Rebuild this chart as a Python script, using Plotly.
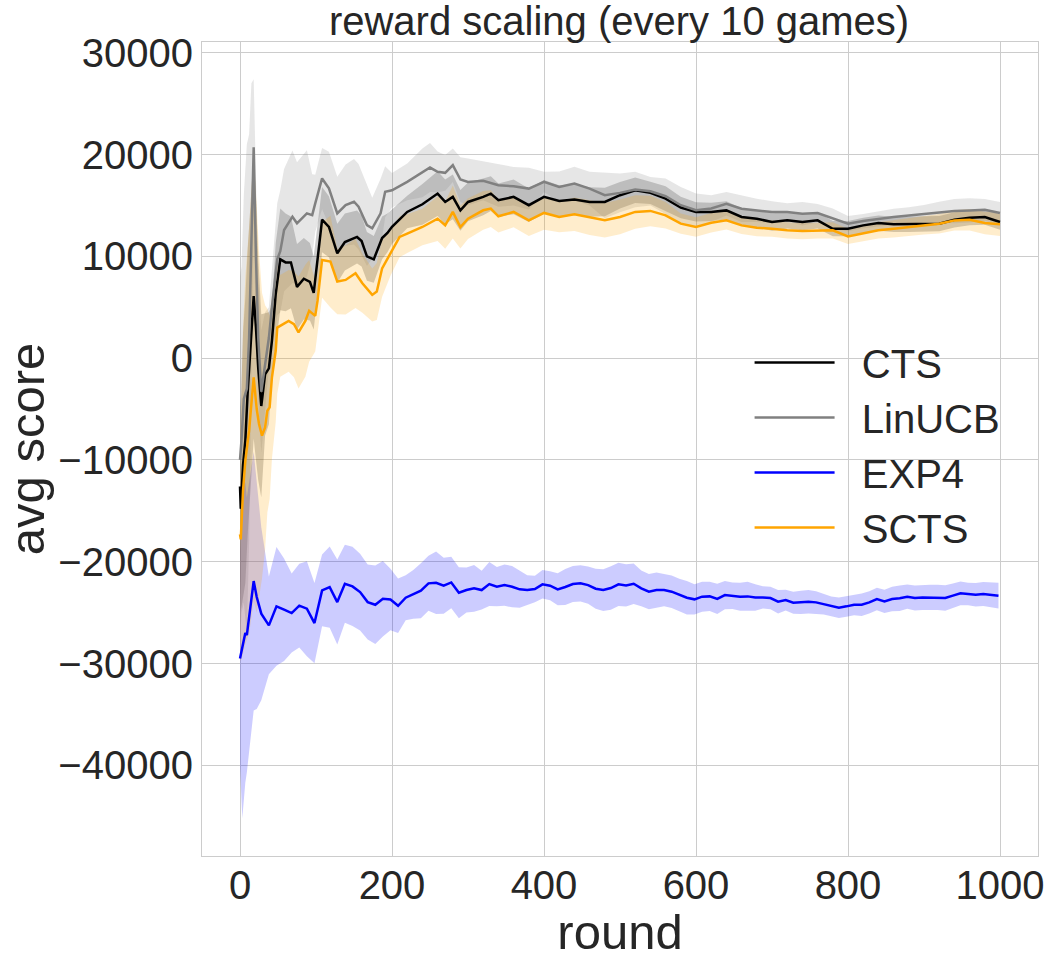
"""Average score per round for four bandit policies, reward scaling every 10 games."""
import numpy as np
import plotly.graph_objects as go

# ---- data (mean line and +/- std band) ----
CTS_ROUND = [0, 1, 4, 7, 10, 12, 15, 18, 21, 24, 28, 33, 38, 42, 47, 53, 60, 67, 75, 84,
             92, 97, 108, 117, 128, 138, 154, 160, 167, 176, 187, 194, 200, 220, 240, 260,
             270, 280, 290, 300, 320, 330, 340, 360, 380, 400, 420, 440, 460, 480, 500, 520,
             540, 560, 580, 600, 620, 640, 660, 680, 700, 720, 740, 760, 780, 800, 820, 840,
             860, 880, 900, 920, 940, 960, 980, 1000]
CTS_MEAN = [-12600, -14800, -10500, -8100, -3500, -900, 2350, 6100, 3000, -1000, -4700, -1600,
            -1000, 1700, 6300, 9700, 9400, 9400, 7000, 7800, 7500, 6400, 13600, 12900, 10300,
            11400, 11900, 11500, 10000, 9700, 11800, 12300, 12900, 14360, 15110, 16160, 15340,
            15840, 14520, 15340, 15840, 16160, 15510, 15840, 15020, 15840, 15440, 15570, 15340,
            15340, 16000, 16490, 16230, 15670, 14790, 14360, 14360, 14510, 13860, 13690, 13370,
            13530, 13370, 13530, 12710, 12710, 13040, 13270, 13140, 13140, 13200, 13200, 13590,
            13790, 13860, 13370]
CTS_STD = [9000, 10000, 13000, 14000, 14000, 14000, 14000, 14000, 13000, 11000, 9000, 6000,
           5500, 3500, 5000, 5000, 4800, 4500, 4200, 4000, 3800, 3600, 3200, 3000, 2900, 2800,
           2600, 2500, 2400, 2300, 2100, 1900, 1700, 1600, 2000, 2200, 2200, 2200, 2000, 1900,
           1800, 1700, 1650, 1700, 1650, 1650, 1550, 1500, 1450, 1400, 1300, 1250, 1100, 1200,
           1050, 950, 900, 900, 850, 850, 850, 800, 800, 800, 750, 750, 750, 750, 750, 750, 750,
           750, 750, 750, 750, 750]

LINUCB_ROUND = [0, 2, 5, 9, 12, 15, 18, 21, 24, 28, 33, 38, 42, 49, 53, 58, 69, 75, 88, 95,
                99, 108, 117, 128, 139, 150, 156, 167, 174, 185, 191, 200, 220, 240, 250, 260,
                270, 280, 290, 300, 320, 340, 360, 380, 400, 420, 440, 460, 480, 500, 520, 540,
                560, 580, 600, 620, 640, 660, 680, 700, 720, 740, 760, 780, 800, 820, 840, 860,
                880, 900, 920, 940, 960, 980, 1000]
LINUCB_MEAN = [-10000, -8000, -4000, -3000, 2000, 12000, 20700, 10000, 2000, -3300, -500, 2000,
               5000, 9700, 10500, 12580, 13890, 13240, 14220, 14050, 15200, 17650, 16670, 14220,
               15030, 15360, 14870, 13070, 12750, 14220, 16340, 16490, 17310, 18200, 18720,
               18300, 18200, 18950, 17540, 17310, 17410, 16980, 16880, 16650, 17310, 16820,
               17150, 16650, 16000, 16230, 16560, 16390, 15900, 15020, 14520, 14700, 15160,
               14670, 14510, 14350, 14350, 14180, 14250, 13690, 13200, 13460, 13690, 13860,
               14020, 14180, 14350, 14440, 14510, 14580, 14250]
LINUCB_STD = [18000, 17000, 20000, 24000, 20000, 15000, 6700, 8000, 6000, 6000, 5000, 3000,
              4000, 5500, 6000, 6000, 6500, 6000, 6200, 4000, 2800, 3000, 3600, 3600, 4000,
              4200, 4200, 4000, 3000, 3400, 2500, 1700, 1800, 2400, 2400, 2000, 1750, 1650,
              2200, 2300, 1900, 2100, 1900, 2050, 1000, 1500, 1650, 1650, 2250, 1900, 1750,
              1400, 1750, 1800, 1650, 1300, 1150, 1300, 1150, 1050, 850, 1150, 900, 1000, 750,
              700, 750, 800, 800, 850, 1000, 1200, 1200, 1050, 1080]

EXP4_ROUND = [0, 3, 7, 9, 18, 22, 28] + list(range(38, 999, 10))
EXP4_MEAN = [-29500, -28500, -27000, -27200, -21900, -23470, -25100,
             -26250, -24380, -24710, -25040, -24310, -24610, -26020, -22810, -22490, -23960,
             -22160, -22420, -22980, -23960, -24220, -23630, -23710, -24320, -23530, -23200,
             -22840, -22120, -22060, -22350, -22030, -23040, -22780, -22610, -22780, -22190,
             -22450, -22290, -22450, -22710, -22780, -22680, -22220, -22350, -22710, -22480,
             -22190, -22120, -22290, -22650, -22780, -22580, -22220, -22320, -22160, -22610,
             -22940, -22780, -22780, -22940, -23270, -23530, -23690, -23430, -23400, -23650,
             -23270, -23330, -23430, -23400, -23500, -23500, -23560, -23920, -23760, -24020,
             -23990, -23920, -23990, -24150, -24380, -24510, -24380, -24220, -24220, -23990,
             -23660, -23890, -23660, -23590, -23430, -23560, -23500, -23500, -23500, -23560,
             -23330, -23100, -23170, -23240, -23170, -23240, -23330]
EXP4_STD = [10500, 16700, 14700, 13500, 12700, 11000, 8500,
            4800, 5840, 5030, 3880, 4120, 4660, 3940, 3530, 3990, 4170, 3830, 3900, 3770,
            3680, 3850, 3700, 3020, 2670, 2210, 2400, 2700, 2700, 3060, 2750, 2530, 2500,
            2210, 2290, 1900, 2160, 1930, 2030, 2030, 1800, 1460, 1300, 1400, 1420, 1570,
            1770, 1770, 1780, 1830, 1960, 2050, 2130, 2130, 2080, 2000, 1750, 1730, 1720,
            1590, 1590, 1600, 1640, 1490, 1470, 1440, 1480, 1390, 1300, 1380, 1440, 1300,
            1100, 1100, 1150, 1020, 1080, 1150, 1150, 1100, 1030, 980, 1010, 1020, 1030, 1100,
            1100, 1100, 1140, 1200, 1250, 1190, 1230, 1230, 1230, 1230, 1260, 1200, 1160,
            1110, 1150, 1180, 1210, 1260]

SCTS_ROUND = [0, 1, 4, 7, 12, 15, 18, 22, 25, 29, 33, 36, 39, 42, 47, 49, 53, 64, 71, 77, 86,
              91, 99, 102, 108, 119, 128, 139, 152, 161, 174, 180, 187, 198, 210, 220, 240,
              260, 270, 280, 290, 300, 320, 330, 340, 360, 380, 400, 420, 440, 460, 480, 500,
              520, 540, 560, 580, 600, 620, 640, 660, 680, 700, 720, 740, 760, 780, 800, 820,
              840, 860, 880, 900, 920, 940, 960, 980, 1000]
SCTS_MEAN = [-17300, -17800, -13000, -10070, -7100, -4200, -1900, -5000, -6470, -7610, -6800,
             -5160, -4840, -1900, 720, 3000, 3170, 3660, 3330, 2520, 3660, 4640, 4150, 5620,
             9640, 9480, 7520, 7680, 8330, 7350, 6210, 6540, 8820, 10290, 11900, 12230, 12880,
             13700, 13050, 14360, 12880, 13700, 14520, 14690, 13930, 14360, 13540, 14260,
             13870, 14130, 13800, 13540, 13870, 14360, 14460, 14030, 13210, 12880, 13300,
             13530, 13040, 12810, 12710, 12550, 12480, 12550, 12550, 11960, 12290, 12550,
             12710, 12880, 13040, 13200, 13530, 13590, 13270, 13140]
SCTS_STD = [10000, 12000, 16000, 18000, 20000, 21000, 22000, 20000, 17000, 14000, 12000,
            10000, 9000, 8000, 7000, 6500, 5000, 5000, 5200, 5500, 5500, 5000, 3500, 3000,
            3700, 4500, 3200, 3400, 3400, 2900, 2600, 2800, 2800, 2200, 2000, 1900, 1800,
            2200, 2300, 2600, 2100, 2000, 1900, 1800, 1600, 1500, 1550, 1650, 1500, 1650,
            1700, 1700, 1700, 1650, 1500, 1300, 1000, 950, 950, 900, 850, 850, 800, 800, 800,
            800, 800, 750, 800, 800, 850, 850, 900, 950, 1000, 1050, 1100, 1150]

Y_TICKS = [-40000, -30000, -20000, -10000, 0, 10000, 20000, 30000]
Y_TICK_TEXT = ['\u221240000', '\u221230000', '\u221220000', '\u221210000',
               '0', '10000', '20000', '30000']
X_TICKS = [0, 200, 400, 600, 800, 1000]

SERIES = [
    ('CTS', CTS_ROUND, CTS_MEAN, CTS_STD, 'black', 'rgba(0,0,0,0.2)'),
    ('LinUCB', LINUCB_ROUND, LINUCB_MEAN, LINUCB_STD, 'grey', 'rgba(128,128,128,0.2)'),
    ('EXP4', EXP4_ROUND, EXP4_MEAN, EXP4_STD, 'blue', 'rgba(0,0,255,0.2)'),
    ('SCTS', SCTS_ROUND, SCTS_MEAN, SCTS_STD, 'orange', 'rgba(255,165,0,0.2)'),
]

FONT = 'Liberation Sans, Arial, sans-serif'
TEXT_COLOR = '#262626'
GRID = '#cccccc'
PAD = '\u00a0\u00a0'   # widens the gap between legend line and label

fig = go.Figure()

# bands first, lines on top
for name, rounds, mean, std, color, fill in SERIES:
    assert len(rounds) == len(mean) == len(std), name
    mean = np.array(mean, dtype=float)
    std = np.array(std, dtype=float)
    fig.add_trace(go.Scatter(x=rounds, y=mean + std, mode='lines', line=dict(width=0),
                             showlegend=False, hoverinfo='skip'))
    fig.add_trace(go.Scatter(x=rounds, y=mean - std, mode='lines', line=dict(width=0),
                             fill='tonexty', fillcolor=fill,
                             showlegend=False, hoverinfo='skip'))

for name, rounds, mean, std, color, fill in SERIES:
    fig.add_trace(go.Scatter(x=rounds, y=mean, mode='lines', name=PAD + name,
                             line=dict(color=color, width=2.5)))

fig.update_layout(
    width=1051, height=959,
    paper_bgcolor='white', plot_bgcolor='white',
    margin=dict(l=202, r=13, t=42, b=103),
    font=dict(family=FONT, size=40, color=TEXT_COLOR),
    title=dict(text='reward scaling (every 10 games)', x=0.589, xanchor='center',
               y=0.978, yanchor='middle', font=dict(size=40, color=TEXT_COLOR)),
    legend=dict(x=0.655, y=0.505, xanchor='left', yanchor='middle', traceorder='normal',
                bgcolor='rgba(0,0,0,0)', borderwidth=0, itemwidth=80,
                font=dict(size=40, color=TEXT_COLOR), tracegroupgap=0),
    showlegend=True,
)
fig.update_xaxes(range=[-50, 1050], tickvals=X_TICKS, showgrid=True, gridcolor=GRID,
                 gridwidth=1.2, zeroline=False, showline=True, linecolor=GRID, linewidth=1.2,
                 mirror=True, ticks='', ticklen=0, automargin=False, ticklabelstandoff=-6,
                 tickfont=dict(size=40, color=TEXT_COLOR),
                 title=dict(text='round', font=dict(size=49, color=TEXT_COLOR), standoff=0))
fig.update_yaxes(range=[-48900, 31050], tickvals=Y_TICKS, ticktext=Y_TICK_TEXT,
                 showgrid=True, gridcolor=GRID, gridwidth=1.2, zeroline=False,
                 showline=True, linecolor=GRID, linewidth=1.2, mirror=True, ticks='',
                 ticklen=0, automargin=False, tickfont=dict(size=40, color=TEXT_COLOR),
                 title=dict(text='avg score', font=dict(size=49, color=TEXT_COLOR), standoff=8))

# the page body has a default 8px margin; drop it so the figure fills the window
fig.write_html('out.html', config={'displayModeBar': False},
               post_script="document.body.style.margin='0';")
